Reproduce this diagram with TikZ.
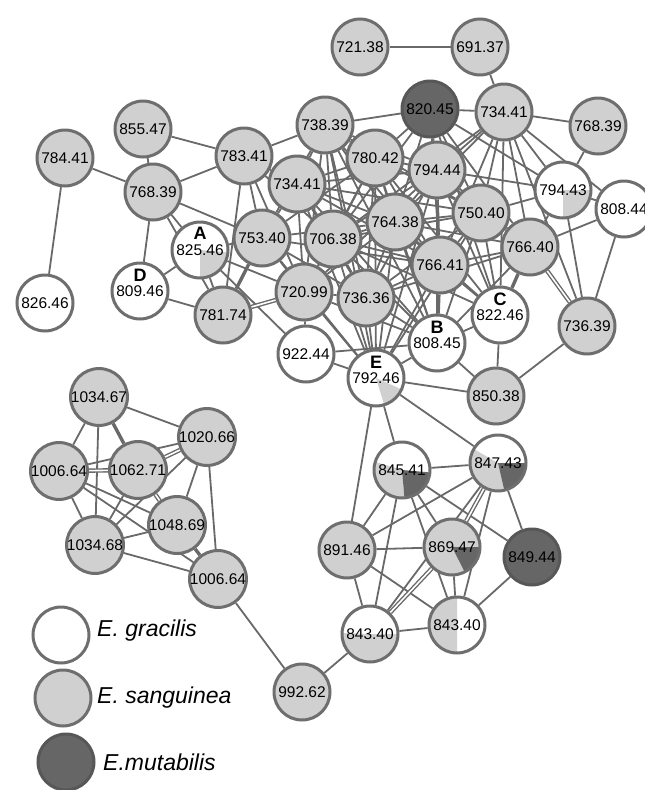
\documentclass[tikz,border=0pt]{standalone}
\usepackage{fontspec}
\setmainfont{Liberation Sans}
\usetikzlibrary{backgrounds}
\definecolor{bordc}{RGB}{110,110,110}
\definecolor{sang}{RGB}{208,208,208}
\definecolor{mut}{RGB}{102,102,102}
\definecolor{edgec}{RGB}{105,105,105}
\newcommand\pwedge[3]{\fill[#1] (path picture bounding box.center) -- ++(#2:40pt) arc[start angle=#2, end angle=#3, radius=40pt] -- cycle;}
\tikzset{
  nd/.style={circle, draw=bordc, line width=3pt, minimum size=56pt, inner sep=0pt, font=\fontsize{15.5}{18}\selectfont},
  gn/.style={nd, fill=sang},
  wn/.style={nd, fill=white},
  mn/.style={nd, fill=mut, draw=mut!85!black},
  ed/.style={draw=edgec, line width=1.8pt},
  ted/.style={draw=edgec, line width=3.4pt},
  ded/.style={draw=edgec, line width=1.4pt, double=white, double distance=1.6pt},
  lettr/.style={font=\fontsize{18}{20}\selectfont\bfseries, inner sep=0pt},
  legt/.style={font=\fontsize{23}{26}\selectfont\itshape, anchor=west, inner sep=0pt}
}
\begin{document}
\begin{tikzpicture}[x=1pt,y=1pt]
\useasboundingbox (0,0) rectangle (645,-790);
% upper network
\node[gn] (n72138) at (360,-47) {721.38};
\node[gn] (n69137) at (480,-47) {691.37};
\node[mn] (n82045) at (430,-109) {820.45};
\node[gn] (n73441b) at (504,-112) {734.41};
\node[gn] (n76839b) at (598,-126) {768.39};
\node[gn] (n78441) at (65,-158) {784.41};
\node[gn] (n85547) at (143,-129) {855.47};
\node[gn] (n78341) at (244,-156) {783.41};
\node[gn] (n73839) at (325,-125) {738.39};
\node[gn] (n76839a) at (153,-192) {768.39};
\node[gn] (n73441a) at (297,-184) {734.41};
\node[gn] (n78042) at (375,-158) {780.42};
\node[gn] (n79444) at (437,-170) {794.44};
\node[wn, path picture={\pwedge{sang}{0}{-90}}] (n79443) at (563,-190) {794.43};
\node[wn] (n80844) at (624,-209) {808.44};
\node[gn] (n75040) at (481,-213) {750.40};
\node[wn] (n82646) at (45,-303) {826.46};
\node[wn] (nD) at (140,-291) {\raisebox{-7pt}{809.46}};
\node[wn, path picture={\pwedge{sang}{-5}{-90}}] (nA) at (200,-250) {\raisebox{-5pt}{825.46}};
\node[gn] (n75340) at (262,-238) {753.40};
\node[gn] (n78174) at (223,-315) {781.74};
\node[gn] (n72099) at (304,-292) {720.99};
\node[wn] (n92244) at (306,-354) {922.44};
\node[gn] (n76438) at (395,-222) {764.38};
\node[gn] (n70638) at (333,-239) {706.38};
\node[gn] (n76641) at (440,-265) {766.41};
\node[gn] (n76640) at (530,-247) {766.40};
\node[gn] (n73636) at (366,-298) {736.36};
\node[wn] (nC) at (500,-315) {\raisebox{-7pt}{822.46}};
\node[wn] (nB) at (437,-343) {\raisebox{-7pt}{808.45}};
\node[wn, path picture={\pwedge{sang}{-24}{-73}}] (nE) at (376,-378) {\raisebox{-2pt}{792.46}};
\node[gn] (n73639) at (587,-326) {736.39};
\node[gn] (n85038) at (496,-396) {850.38};
\node[lettr] (lA) at (200,-233) {A};
\node[lettr] (lD) at (140,-275) {D};
\node[lettr] (lC) at (500,-299) {C};
\node[lettr] (lB) at (437,-327) {B};
\node[lettr] (lE) at (376,-362) {E};
% lower network
\node[wn, path picture={\pwedge{sang}{163}{275}\pwedge{mut}{275}{355}}] (n84541) at (402,-470) {845.41};
\node[wn, path picture={\pwedge{sang}{150}{283}\pwedge{mut}{283}{360}}] (n84743) at (498,-463) {847.43};
\node[gn] (n89146) at (347,-550) {891.46};
\node[gn, path picture={\pwedge{mut}{-63}{0}}] (n86947) at (452,-547) {869.47};
\node[mn] (n84944) at (532,-557) {849.44};
\node[wn, path picture={\pwedge{sang}{178}{360}}] (n84340a) at (370,-634) {843.40};
\node[wn, path picture={\pwedge{sang}{90}{270}}] (n84340b) at (457,-625) {843.40};
\node[gn] (n99262) at (302,-692) {992.62};
% left cluster
\node[gn] (n103467) at (99,-397) {1034.67};
\node[gn] (n102066) at (207,-437) {1020.66};
\node[gn] (n100664a) at (59,-471) {1006.64};
\node[gn] (n106271) at (138,-470) {1062.71};
\node[gn] (n104869) at (177,-525) {1048.69};
\node[gn] (n103468) at (95,-545) {1034.68};
\node[gn] (n100664b) at (218,-579) {1006.64};
% legend
\node[wn] (lg1) at (61,-635) {};
\node[gn] (lg2) at (63,-698) {};
\node[mn] (lg3) at (66,-762) {};
\node[legt] (lt1) at (97,-631) {E. gracilis};
\node[legt] (lt2) at (97,-698) {E. sanguinea};
\node[legt] (lt3) at (103,-762) {E.mutabilis};
\begin{pgfonlayer}{background}
\foreach \a/\b in {n72138/n69137, n69137/n73441b, n73441b/n76839b, n73441b/n82045, n82045/n73839, n76839b/n79443,
 n78441/n76839a, n78441/n82646, n85547/n78341, n85547/n76839a, n76839a/n78341, n76839a/nD, n76839a/nA, n76839a/n78174, n76839a/n75340,
 nD/nA, nD/n78174, nA/n78174, nA/n75340, nA/n72099, nA/n92244, n78174/n78341,
 n78341/n73839, n78341/n73441a, n78341/n75340, n78341/n70638, n78341/n72099,
 n92244/n72099, n92244/nE, n92244/nB, nE/n85038, nB/n85038, nC/n85038, n85038/n73639,
 n73639/n79443, n73639/n80844, n73639/n73441b, n80844/n79443, n80844/n76640, n80844/n73441b,
 n79443/n73441b, n79443/n82045, n79443/n79444, n79443/n75040, n79443/n76640,
 n73839/n73441a, n73839/n78042, n73839/n79444, n73839/n76438, n73839/n70638, n73839/n75340, n73839/n76641, n73839/n75040, n73839/n73636, n73839/n72099, n73839/nE, n73839/nB,
 n73441a/n78042, n73441a/n75340, n73441a/n70638, n73441a/n76438, n73441a/n72099, n73441a/n73636, n73441a/n76641, n73441a/n79444, n73441a/nE, n73441a/nB, n73441a/n75040,
 n78042/n82045, n78042/n79444, n78042/n76438, n78042/n70638, n78042/n75340, n78042/n76641, n78042/n75040, n78042/n73636, n78042/n72099, n78042/nB, n78042/nE, n78042/nC,
 n82045/n79444, n82045/n76438, n82045/n75040, n82045/n76641, n82045/n70638, n82045/n76640, n82045/nC,
 n79444/n73441b, n79444/n76438, n79444/n75040, n79444/n76641, n79444/n70638, n79444/n73636, n79444/nB, n79444/nC, n79444/nE, n79444/n76640, n79444/n72099,
 n73441b/n75040, n73441b/n76640, n73441b/n76641, n73441b/nC, n73441b/n76438, n73441b/n70638,
 n76438/n70638, n76438/n75340, n76438/n75040, n76438/n76641, n76438/n76640, n76438/n72099, n76438/n73636, n76438/nB, n76438/nC, n76438/nE,
 n70638/n72099, n70638/n73636, n70638/n76641, n70638/n75040, n70638/nB, n70638/nE, n70638/nC,
 n75340/n72099, n75340/n73636, n75340/n76641, n75340/nE,
 n75040/n76641, n75040/n76640, n75040/n73636, n75040/nB, n75040/nC, n75040/nE,
 n76641/n76640, n76641/n73636, n76641/nC, n76641/nE, n76640/nB, n76640/n73636,
 n72099/n73636, n72099/nE, n72099/nB, n73636/nE, n73636/nB, nB/nC, nB/nE,
 nE/n84541, nE/n89146, nE/n84743, n84541/n84743, n84541/n89146, n84541/n86947, n84541/n84340a, n84541/n84340b, n84541/n84944,
 n84743/n89146, n84743/n84340a, n84743/n84340b, n84743/n84944, n89146/n86947, n89146/n84340a, n89146/n84340b,
 n86947/n84340b, n84340a/n84340b, n84340b/n84944, n84340a/n99262, n99262/n100664b,
 n103467/n102066, n103467/n100664a, n103467/n103468, n102066/n100664a, n102066/n104869, n102066/n103468, n102066/n100664b,
 n100664a/n103468, n100664a/n104869, n100664a/n100664b, n106271/n103468, n103468/n104869, n103468/n100664b}
  {\draw[ed] (\a) -- (\b);}
\foreach \a/\b in {n75340/n78174, n76641/nB, n76640/nC, n103467/n106271, n104869/n100664b}
  {\draw[ted] (\a) -- (\b);}
\foreach \a/\b in {n73639/n76640, n84743/n86947, n86947/n84340a, n102066/n106271, n100664a/n106271, n106271/n104869, n78174/n72099}
  {\draw[ded] (\a) -- (\b);}
\end{pgfonlayer}
\end{tikzpicture}
\end{document}
